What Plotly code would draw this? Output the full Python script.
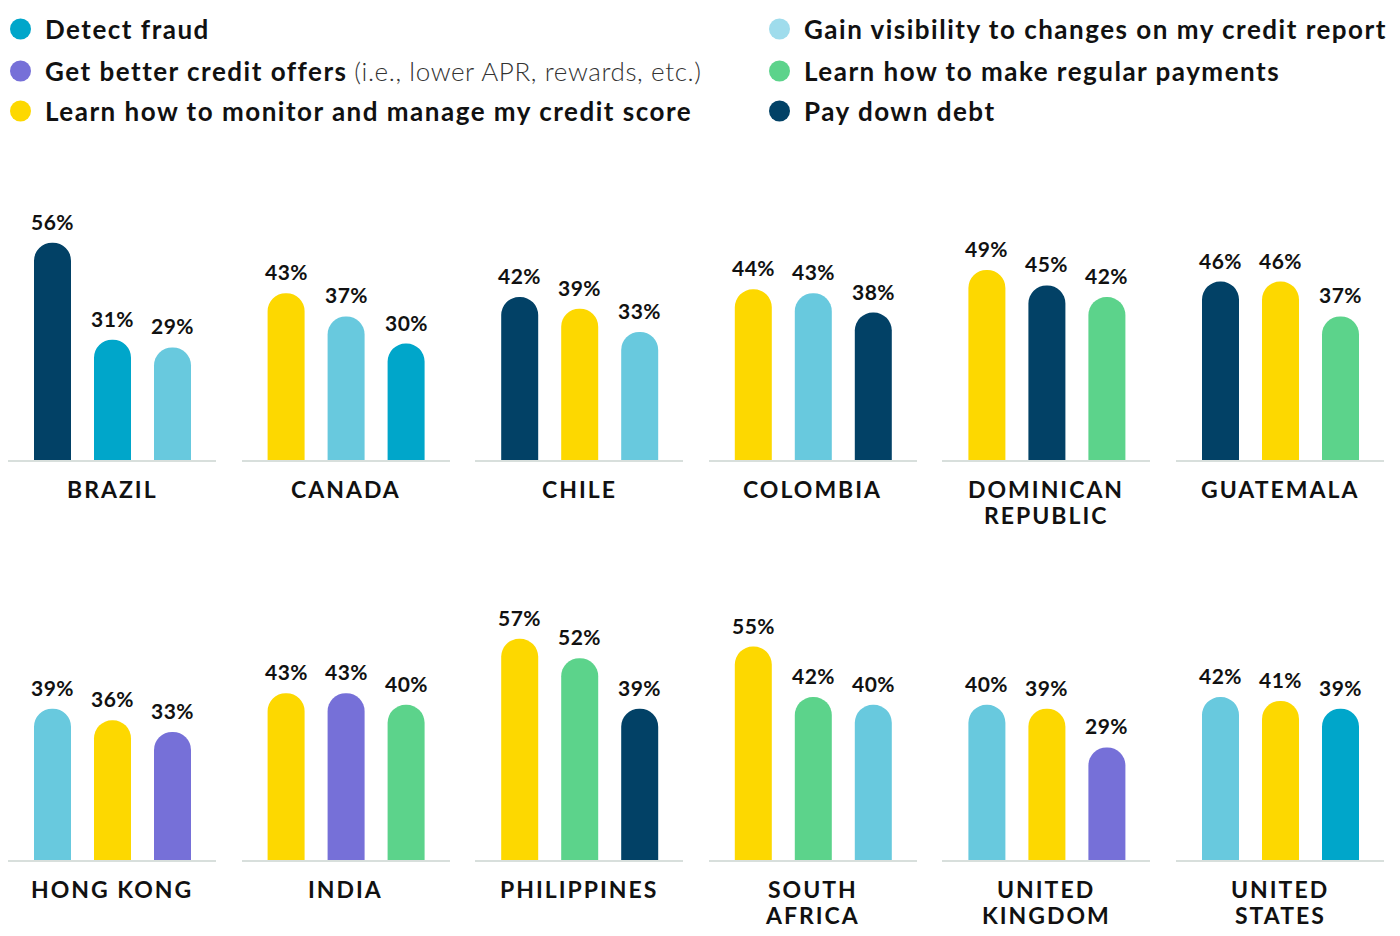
import plotly.graph_objects as go

# ---------------- data ----------------
categories = [
    "Detect fraud",
    "Gain visibility to changes on my credit report",
    "Get better credit offers",
    "Learn how to make regular payments",
    "Learn how to monitor and manage my credit score",
    "Pay down debt",
]
cat_colors = {
    "Detect fraud": "#00A6CA",
    "Gain visibility to changes on my credit report": "#68C9DE",
    "Get better credit offers": "#7670D8",
    "Learn how to make regular payments": "#5CD38B",
    "Learn how to monitor and manage my credit score": "#FDD800",
    "Pay down debt": "#024166",
}
legend_colors = {
    "Detect fraud": "#00A6CA",
    "Gain visibility to changes on my credit report": "#9FDCEC",
    "Get better credit offers": "#7670D8",
    "Learn how to make regular payments": "#5CD38B",
    "Learn how to monitor and manage my credit score": "#FDD800",
    "Pay down debt": "#024166",
}

countries = ["BRAZIL", "CANADA", "CHILE", "COLOMBIA", "DOMINICAN<br>REPUBLIC", "GUATEMALA",
             "HONG KONG", "INDIA", "PHILIPPINES", "SOUTH<br>AFRICA", "UNITED<br>KINGDOM", "UNITED<br>STATES"]

DF, GV, GB, RP, MM, PD = categories
brazil_cats = [PD, DF, GV];           brazil_vals = [56, 31, 29]
canada_cats = [MM, GV, DF];           canada_vals = [43, 37, 30]
chile_cats = [PD, MM, GV];            chile_vals = [42, 39, 33]
colombia_cats = [MM, GV, PD];         colombia_vals = [44, 43, 38]
dominican_cats = [MM, PD, RP];        dominican_vals = [49, 45, 42]
guatemala_cats = [PD, MM, RP];        guatemala_vals = [46, 46, 37]
hongkong_cats = [GV, MM, GB];         hongkong_vals = [39, 36, 33]
india_cats = [MM, GB, RP];            india_vals = [43, 43, 40]
philippines_cats = [MM, RP, PD];      philippines_vals = [57, 52, 39]
southafrica_cats = [MM, RP, GV];      southafrica_vals = [55, 42, 40]
uk_cats = [GV, MM, GB];               uk_vals = [40, 39, 29]
us_cats = [GV, MM, DF];               us_vals = [42, 41, 39]

country_cats = [brazil_cats, canada_cats, chile_cats, colombia_cats, dominican_cats, guatemala_cats,
                hongkong_cats, india_cats, philippines_cats, southafrica_cats, uk_cats, us_cats]
country_vals = [brazil_vals, canada_vals, chile_vals, colombia_vals, dominican_vals, guatemala_vals,
                hongkong_vals, india_vals, philippines_vals, southafrica_vals, uk_vals, us_vals]

# ---------------- layout geometry ----------------
W, H = 1400, 936
OFF = 8              # page body margin offset
FONT = "Lato"
panel_left0 = 8 - OFF
panel_step = 233.6
panel_w = 208
unit = 60.0          # px between bars
first_c = 44.5       # px from panel left to first bar centre
bar_w = 37
px_per_pct = 3.88
ymax = 60
baselines = [460 - OFF, 860 - OFF]

fig = go.Figure()
layout = dict(
    width=W, height=H, margin=dict(l=0, r=0, t=0, b=0),
    paper_bgcolor="white", plot_bgcolor="white",
    showlegend=False, barcornerradius="50%",
    font=dict(family=FONT, color="#111111"),
)
annotations = []

for i, (name, cats, vals) in enumerate(zip(countries, country_cats, country_vals)):
    row, col = divmod(i, 6)
    n = i + 1
    xa = "x" if n == 1 else f"x{n}"
    ya = "y" if n == 1 else f"y{n}"
    left = panel_left0 + col * panel_step
    right = left + panel_w
    base = baselines[row]
    top = base - ymax * px_per_pct
    xr = [-first_c / unit, (panel_w - first_c) / unit]

    fig.add_trace(go.Bar(
        x=[0, 1, 2], y=vals, width=bar_w / unit,
        marker=dict(color=[cat_colors[c] for c in cats], line=dict(width=0)),
        xaxis=xa, yaxis=ya, hoverinfo="skip",
    ))
    layout[f"xaxis{n}"] = dict(
        domain=[left / W, right / W], range=xr, anchor=ya,
        showgrid=False, zeroline=False, showticklabels=False, ticks="",
        showline=True, linecolor="#D8DFDC", linewidth=2, fixedrange=True,
    )
    layout[f"yaxis{n}"] = dict(
        domain=[1 - base / H, 1 - top / H], range=[0, ymax], anchor=xa,
        visible=False, fixedrange=True,
    )
    for k, v in enumerate(vals):
        annotations.append(dict(
            x=k, y=v, xref=xa, yref=ya,
            text=f"<b><span style='letter-spacing:0.5px'>{v}%</span></b>",
            showarrow=False, yanchor="bottom", xanchor="center", yshift=7,
            font=dict(family=FONT, size=21, color="#111111"),
        ))
    for li, line in enumerate(name.split("<br>")):
        annotations.append(dict(
            x=(left + panel_w / 2) / W, y=1 - (base + 29 + 26 * li) / H, xref="paper", yref="paper",
            text=f"<b><span style='letter-spacing:2px'>{line}</span></b>",
            showarrow=False, xanchor="center", yanchor="middle",
            font=dict(family=FONT, size=23, color="#111111"),
        ))

# ---------------- custom legend ----------------
legend_order = [DF, GB, MM, GV, RP, PD]
B = "<b><span style='letter-spacing:1.5px'>{}</span></b>"
legend_labels = {
    DF: B.format("Detect fraud"),
    GB: B.format("Get better credit offers")
        + " <span style='font-weight:300;color:#333333;letter-spacing:0.6px'>(i.e., lower APR, rewards, etc.)</span>",
    MM: B.format("Learn how to monitor and manage my credit score"),
    GV: B.format("Gain visibility to changes on my credit report"),
    RP: B.format("Learn how to make regular payments"),
    PD: B.format("Pay down debt"),
}
rows_y = [29 - OFF, 71 - OFF, 111 - OFF]
cols_x = [20.5 - OFF, 779.5 - OFF]
shapes = []
for j, c in enumerate(legend_order):
    colx = cols_x[j // 3]
    ry = rows_y[j % 3]
    r = 10.5
    shapes.append(dict(
        type="circle", xref="paper", yref="paper",
        x0=(colx - r) / W, x1=(colx + r) / W, y0=1 - (ry + r) / H, y1=1 - (ry - r) / H,
        fillcolor=legend_colors[c], line=dict(width=0),
    ))
    annotations.append(dict(
        x=(colx + 22) / W, y=1 - ry / H, xref="paper", yref="paper",
        text=legend_labels[c],
        showarrow=False, xanchor="left", yanchor="middle",
        font=dict(family=FONT, size=26, color="#111111"),
    ))

layout["annotations"] = annotations
layout["shapes"] = shapes
fig.update_layout(**layout)
fig.write_html("out.html")
